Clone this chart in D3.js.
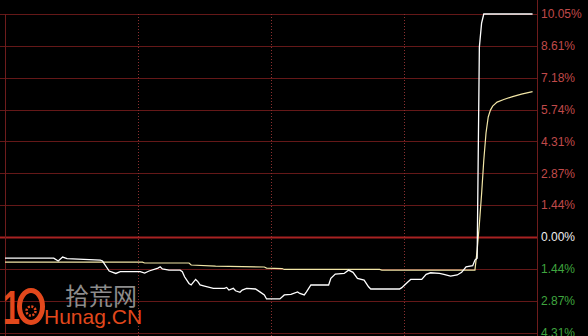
<!DOCTYPE html>
<html>
<head>
<meta charset="utf-8">
<script src="https://cdn.jsdelivr.net/npm/d3@7/dist/d3.min.js"></script>
<style>
  html, body { margin: 0; padding: 0; background: #000; }
  svg { display: block; }
</style>
</head>
<body>
<figure id="chart" style="margin:0"></figure>
<script>
// price change (%) vs minute of the trading day (0..240)
const priceTimes = [0, 22, 24, 26, 28, 43, 44, 47, 50, 52, 61, 63, 65, 69, 70, 71, 74, 79, 80, 81, 83, 84, 86, 87, 88, 90, 94, 99, 100, 101, 103, 104, 106, 107, 109, 113, 115, 117, 118, 124, 126, 129, 132, 133, 135, 136, 138, 146, 147, 149, 153, 155, 157, 159, 162, 164, 165, 178, 179, 181, 183, 188, 190, 192, 196, 198, 201, 204, 206, 208, 211, 212, 213, 214, 215, 216, 238];
const priceValues = [-0.95, -0.95, -1.08, -0.90, -0.97, -1.04, -1.08, -1.53, -1.64, -1.56, -1.56, -1.62, -1.53, -1.40, -1.34, -1.44, -1.49, -1.49, -1.56, -1.79, -2.09, -2.16, -1.91, -2.01, -2.16, -2.21, -2.31, -2.31, -2.27, -2.39, -2.31, -2.42, -2.49, -2.39, -2.31, -2.34, -2.47, -2.61, -2.79, -2.79, -2.61, -2.58, -2.47, -2.54, -2.61, -2.47, -2.16, -2.16, -1.86, -1.67, -1.64, -1.49, -1.59, -1.86, -1.94, -2.24, -2.34, -2.34, -2.28, -2.09, -1.91, -1.91, -1.68, -1.61, -1.64, -1.68, -1.76, -1.71, -1.59, -1.34, -1.29, -1.04, -0.95, 8.56, 9.64, 10.05, 10.05];

// average price line
const avgTimes = [0, 62, 63, 83, 84, 95, 117, 118, 125, 126, 169, 170, 212, 213, 214, 215, 216, 217, 218, 219, 220, 222, 225, 229, 233, 238];
const avgValues = [-1.13, -1.13, -1.17, -1.17, -1.26, -1.31, -1.35, -1.40, -1.42, -1.46, -1.46, -1.49, -1.49, -0.59, 0.59, 1.94, 3.47, 4.69, 5.41, 5.72, 5.90, 6.08, 6.20, 6.33, 6.44, 6.55];

const pctTicks = [10.05, 8.61, 7.18, 5.74, 4.31, 2.87, 1.44, 0.00, -1.44, -2.87, -4.31];
const timeTicks = [60, 120, 180];

const width = 588, height = 336;
const plotLeft = 5, plotRight = 537, plotTop = 14, plotBottom = 332.7;

const x = d3.scaleLinear().domain([0, 240]).range([plotLeft, plotRight]);
const y = d3.scaleLinear().domain([-4.31, 10.05]).range([plotBottom, plotTop]);
const snap = v => Math.round(v) + 0.5;

const svg = d3.select("figure#chart")
  .append("svg")
  .attr("width", width)
  .attr("height", height)
  .style("background", "#000");

// horizontal grid
svg.append("g")
  .selectAll("line")
  .data(pctTicks)
  .join("line")
  .attr("x1", 0)
  .attr("x2", plotRight)
  .attr("y1", d => snap(y(d)))
  .attr("y2", d => snap(y(d)))
  .attr("stroke", d => d === 0 ? "#a82222" : "#641818")
  .attr("stroke-width", d => d === 0 ? 2 : 1);

// vertical grid (dotted) and borders
svg.append("g")
  .selectAll("line")
  .data(timeTicks)
  .join("line")
  .attr("x1", d => snap(x(d)))
  .attr("x2", d => snap(x(d)))
  .attr("y1", plotTop)
  .attr("y2", height)
  .attr("stroke", "#8a3030")
  .attr("stroke-dasharray", "1,2");

svg.append("line")
  .attr("x1", snap(x(0))).attr("x2", snap(x(0)))
  .attr("y1", plotTop).attr("y2", height)
  .attr("stroke", "#6e1c1c");

svg.append("line")
  .attr("x1", snap(x(240))).attr("x2", snap(x(240)))
  .attr("y1", 0).attr("y2", height)
  .attr("stroke", "#6e1c1c");

// right axis labels
const axis = d3.axisRight(y)
  .tickValues(pctTicks)
  .tickSize(0)
  .tickPadding(4)
  .tickFormat(d => Math.abs(d).toFixed(2) + "%");

const axisG = svg.append("g")
  .attr("transform", `translate(${plotRight},0)`)
  .call(axis);
axisG.select(".domain").remove();
axisG.selectAll("text")
  .attr("font-family", "'Liberation Sans', Arial, sans-serif")
  .attr("font-size", 12)
  .attr("fill", d => d > 0 ? "#c04a4a" : d < 0 ? "#3fa53f" : "#eeeeee");

// watermark
const wm = svg.append("g");
wm.append("text")
  .attr("transform", "translate(3,324) scale(0.62,1)")
  .attr("font-family", "'Liberation Sans', Arial, sans-serif")
  .attr("font-weight", "bold")
  .attr("font-size", 49)
  .attr("fill", "#e2481c")
  .text("1");
wm.append("ellipse")
  .attr("cx", 31).attr("cy", 306.5)
  .attr("rx", 11.5).attr("ry", 16)
  .attr("fill", "none")
  .attr("stroke", "#e2481c")
  .attr("stroke-width", 5);
wm.append("circle")
  .attr("cx", 31).attr("cy", 311).attr("r", 4.5)
  .attr("fill", "none")
  .attr("stroke", "#e2481c")
  .attr("stroke-width", 2.5)
  .attr("stroke-dasharray", "2,1.5");
wm.append("text")
  .attr("x", 65).attr("y", 305)
  .attr("font-family", "'Noto Sans CJK SC', sans-serif")
  .attr("font-size", 24)
  .attr("fill", "#8c8c8c")
  .text("拾荒网");
wm.append("text")
  .attr("x", 44).attr("y", 324)
  .attr("font-family", "'Liberation Sans', Arial, sans-serif")
  .attr("font-size", 21)
  .attr("fill", "#e2481c")
  .text("Hunag.CN");

// lines
const line = d3.line()
  .x(d => x(d[0]))
  .y(d => y(d[1]));

const avgData = avgTimes.map((t, i) => [t, avgValues[i]]);
const priceData = priceTimes.map((t, i) => [t, priceValues[i]]);

svg.append("path")
  .datum(avgData)
  .attr("d", line)
  .attr("fill", "none")
  .attr("stroke", "#f2e6a6")
  .attr("stroke-width", 1.2);

svg.append("path")
  .datum(priceData)
  .attr("d", line)
  .attr("fill", "none")
  .attr("stroke", "#ffffff")
  .attr("stroke-width", 1.3);
</script>
</body>
</html>
